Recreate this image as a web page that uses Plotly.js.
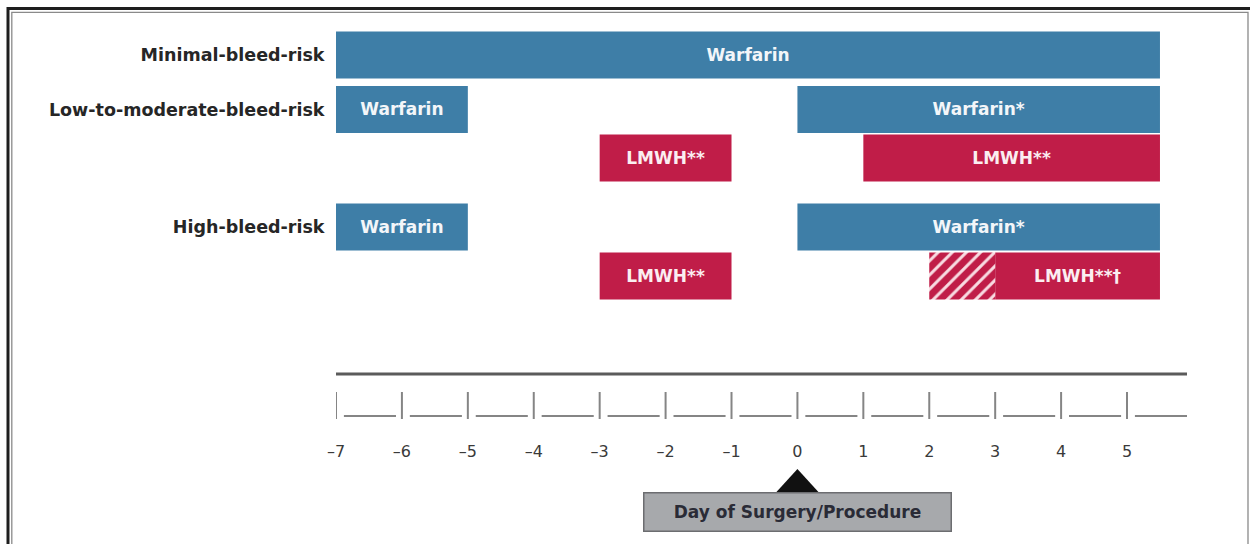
<!DOCTYPE html>
<html>
<head>
<meta charset="utf-8">
<script src="https://cdn.plot.ly/plotly-3.0.1.min.js"></script>
<style>html,body{margin:0;padding:0;background:#fff;}#chart{width:1250px;height:544px;}</style>
</head>
<body>
<div id="chart"></div>
<script>
// ---------------- data ----------------
const rowNames = ['Minimal-bleed-risk', 'Low-to-moderate-bleed-risk', '', 'High-bleed-risk', ''];
const labelRows = [0, 1, 3];
const dayTicks = [-7, -6, -5, -4, -3, -2, -1, 0, 1, 2, 3, 4, 5];
const dayTickText = ['\u20137', '\u20136', '\u20135', '\u20134', '\u20133', '\u20132', '\u20131', '0', '1', '2', '3', '4', '5'];
const surgeryDay = 0;
const surgeryLabel = 'Day of Surgery/Procedure';

// warfarin bars
const warfRow = [0, 1, 1, 3, 3];
const warfStart = [-7, -7, 0, -7, 0];
const warfEnd = [5.5, -5, 5.5, -5, 5.5];
const warfText = ['Warfarin', 'Warfarin', 'Warfarin*', 'Warfarin', 'Warfarin*'];
// LMWH bars (solid)
const lmwhRow = [2, 2, 4, 4];
const lmwhStart = [-3, 1, -3, 3];
const lmwhEnd = [-1, 5.5, -1, 5.5];
const lmwhText = ['LMWH**', 'LMWH**', 'LMWH**', 'LMWH**\u2020'];
// LMWH hatched part
const hatchRow = [4];
const hatchStart = [2];
const hatchEnd = [3];

// ---------------- layout constants ----------------
const ROW_POS = [0, 1.135, 2.146, 3.583, 4.604];
const BAR_W = 0.98;
const X_RANGE = [-7, 5.91];
const BLUE = '#3e7ea7';
const RED = '#c01d48';
const FONT = 'DejaVu Sans';

function mk(rows, s, e) {
  return {
    y: rows.map(r => ROW_POS[r]),
    base: s,
    x: e.map((v, i) => v - s[i])
  };
}

const w = mk(warfRow, warfStart, warfEnd);
const l = mk(lmwhRow, lmwhStart, lmwhEnd);
const h = mk(hatchRow, hatchStart, hatchEnd);

const barCommon = {
  type: 'bar', orientation: 'h', width: BAR_W,
  textposition: 'inside', insidetextanchor: 'middle', textangle: 0,
  constraintext: 'none', hoverinfo: 'skip', showlegend: false
};

const traces = [
  Object.assign({}, barCommon, w, {
    text: warfText, marker: {color: BLUE, line: {width: 0}},
    textfont: {family: FONT, size: 17, color: '#f3f6f9', weight: 'bold'}
  }),
  Object.assign({}, barCommon, l, {
    text: lmwhText, marker: {color: RED, line: {width: 0}},
    textfont: {family: FONT, size: 17, color: '#fbeef1', weight: 'bold'}
  }),
  Object.assign({}, barCommon, h, {
    text: [''], marker: {color: RED, line: {width: 0},
      pattern: {shape: '/', fgcolor: '#f8dbe2', bgcolor: RED, size: 10, solidity: 0.3}}
  })
];

// timeline decoration (paper y for plot area 20..420 px)
const py = p => (420 - p) / 400;
const shapes = [];
shapes.push({type: 'line', xref: 'x', yref: 'paper', x0: X_RANGE[0], x1: X_RANGE[1], y0: py(374), y1: py(374),
  line: {color: '#5b5b5b', width: 3}});
dayTicks.forEach((t, i) => {
  shapes.push({type: 'line', xref: 'x', yref: 'paper', x0: t, x1: t, y0: py(392), y1: py(419),
    line: {color: '#858585', width: 2}});
  const endX = i < dayTicks.length - 1 ? dayTicks[i + 1] - 0.09 : X_RANGE[1];
  shapes.push({type: 'line', xref: 'x', yref: 'paper', x0: t + 0.12, x1: endX, y0: py(416), y1: py(416),
    line: {color: '#858585', width: 2}});
});
// triangle marker for the surgery day
shapes.push({type: 'path', xref: 'x', yref: 'paper', xsizemode: 'pixel', xanchor: surgeryDay,
  path: 'M-21,' + py(492) + ' L21,' + py(492) + ' L0,' + py(469) + ' Z',
  fillcolor: '#111', line: {width: 0}});
// frame
const pxx = p => (p - 336) / 851;
shapes.push({type: 'rect', xref: 'paper', yref: 'paper', x0: pxx(8), x1: pxx(1256), y0: py(8.5), y1: py(600),
  line: {color: '#1e1e1e', width: 3}, fillcolor: 'rgba(0,0,0,0)'});
shapes.push({type: 'rect', xref: 'paper', yref: 'paper', x0: pxx(11.8), x1: pxx(1248), y0: py(12.3), y1: py(600),
  line: {color: '#8a8a8a', width: 1.3}, fillcolor: 'rgba(0,0,0,0)'});

const layout = {
  width: 1250, height: 544,
  margin: {l: 336, r: 63, t: 20, b: 124},
  paper_bgcolor: '#ffffff', plot_bgcolor: '#ffffff',
  barmode: 'overlay',
  xaxis: {
    range: X_RANGE, showgrid: false, zeroline: false, showline: false,
    tickmode: 'array', tickvals: dayTicks, ticktext: dayTickText,
    ticks: 'outside', ticklen: 17, tickcolor: 'rgba(0,0,0,0)',
    tickfont: {family: FONT, size: 16, color: '#3a3a3a'}, fixedrange: true
  },
  yaxis: {
    range: [(420 - 55) / 48, (20 - 55) / 48], showgrid: false, zeroline: false, showline: false,
    tickmode: 'array', tickvals: labelRows.map(r => ROW_POS[r]), ticktext: labelRows.map(r => rowNames[r]),
    ticks: 'outside', ticklen: 7, tickcolor: 'rgba(0,0,0,0)',
    tickfont: {family: FONT, size: 17.5, color: '#262626', weight: 'bold'}, fixedrange: true
  },
  shapes: shapes,
  annotations: [{
    xref: 'x', yref: 'paper', x: surgeryDay, y: py(511.5), yanchor: 'middle', xanchor: 'center',
    text: surgeryLabel, showarrow: false, width: 304, height: 35,
    bgcolor: '#a7a9ac', bordercolor: '#6c6d70', borderwidth: 1.5, borderpad: 1,
    font: {family: FONT, size: 17, color: '#2a2b36', weight: 'bold'}
  }]
};

Plotly.newPlot('chart', traces, layout, {displayModeBar: false, staticPlot: true});
</script>
</body>
</html>
